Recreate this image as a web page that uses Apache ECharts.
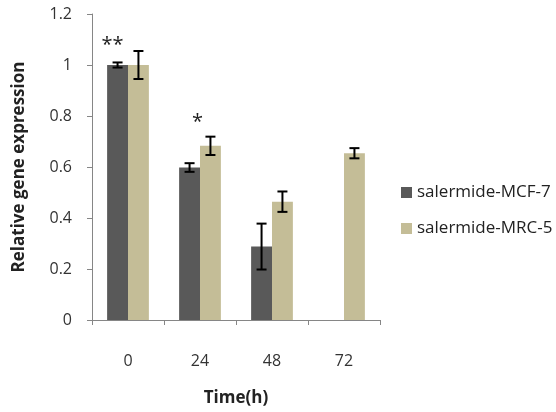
<!DOCTYPE html>
<html>
<head>
<meta charset="utf-8">
<script src="https://cdn.jsdelivr.net/npm/echarts@6/dist/echarts.min.js"></script>
<style>
  html, body { margin: 0; padding: 0; background: #fff; }
  #chart { width: 556px; height: 412px; }
</style>
</head>
<body>
<div id="chart"></div>
<script>
const categories = ['0', '24', '48', '72']
const mcfValues = [1.0, 0.598, 0.288, null]
const mcfErrors = [0.01, 0.017, 0.09, null]
const mrcValues = [1.0, 0.683, 0.464, 0.654]
const mrcErrors = [0.055, 0.036, 0.04, 0.02]
const yTicks = [0, 0.2, 0.4, 0.6, 0.8, 1, 1.2]
// significance marks: [category, height, text, shift from the MCF bar in px]
const marks = [['0', 1.078, '**', -5], ['24', 0.775, '*', 8]]

const font = '"Open Sans", "Noto Sans", sans-serif'
const chart = echarts.init(document.getElementById('chart'))

// error bars drawn on top of the bars, side = -1 for left bar, +1 for right
function errorSeries(values, errors, side) {
  const data = values.map((v, i) => v == null ? null : [i, v - errors[i], v + errors[i]])
  return {
    type: 'custom',
    z: 10,
    silent: true,
    data: data.filter(d => d),
    renderItem(params, api) {
      const band = api.size([1, 0])[0]
      const bw = band * 0.29
      const lo = api.coord([api.value(0), api.value(1)])
      const hi = api.coord([api.value(0), api.value(2)])
      const x = lo[0] + side * bw / 2
      const cap = 5
      const style = { stroke: '#000', lineWidth: 2 }
      return {
        type: 'group',
        children: [
          { type: 'line', shape: { x1: x, y1: lo[1], x2: x, y2: hi[1] }, style },
          { type: 'line', shape: { x1: x - cap, y1: lo[1], x2: x + cap, y2: lo[1] }, style },
          { type: 'line', shape: { x1: x - cap, y1: hi[1], x2: x + cap, y2: hi[1] }, style }
        ]
      }
    }
  }
}

chart.setOption({
  animation: false,
  grid: { left: 92, right: 176, top: 14, bottom: 86 },
  legend: {
    orient: 'vertical',
    left: 396,
    top: 179,
    itemWidth: 11,
    itemHeight: 11,
    itemGap: 19,
    icon: 'rect',
    textStyle: { fontFamily: font, fontSize: 17, color: '#222' },
    data: ['salermide-MCF-7', 'salermide-MRC-5']
  },
  xAxis: {
    type: 'category',
    data: categories,
    name: 'Time(h)',
    nameLocation: 'middle',
    nameGap: 70,
    nameTextStyle: { fontFamily: font, fontSize: 17, fontWeight: 'bold', color: '#222' },
    axisLine: { lineStyle: { color: '#868686' } },
    axisTick: { show: true, length: 5, lineStyle: { color: '#868686' } },
    axisLabel: { fontFamily: font, fontSize: 16, color: '#333', margin: 33 }
  },
  yAxis: {
    type: 'value',
    min: 0,
    max: 1.2,
    interval: 0.2,
    name: 'Relative gene expression',
    nameLocation: 'middle',
    nameGap: 64,
    nameTextStyle: { fontFamily: font, fontSize: 17, fontWeight: 'bold', color: '#222' },
    splitLine: { show: false },
    axisLine: { show: true, lineStyle: { color: '#868686' } },
    axisTick: { show: true, length: 5, lineStyle: { color: '#868686' } },
    axisLabel: {
      fontFamily: font, fontSize: 16, color: '#333', margin: 20,
      formatter: v => yTicks.includes(Math.round(v * 10) / 10) ? String(Math.round(v * 10) / 10) : ''
    }
  },
  series: [
    {
      name: 'salermide-MCF-7',
      type: 'bar',
      data: mcfValues,
      barGap: '0%',
      barCategoryGap: '42%',
      itemStyle: { color: '#595959' },
      markPoint: {
        symbol: 'circle',
        symbolSize: 0,
        label: {
          show: true,
          position: 'inside',
          fontFamily: font,
          fontSize: 20,
          color: '#222',
          formatter: p => p.name
        },
        data: marks.map(m => ({ name: m[2], coord: [m[0], m[1]], label: { offset: [m[3], 0] } }))
      }
    },
    {
      name: 'salermide-MRC-5',
      type: 'bar',
      data: mrcValues,
      itemStyle: { color: '#c4bd97' }
    },
    errorSeries(mcfValues, mcfErrors, -1),
    errorSeries(mrcValues, mrcErrors, 1)
  ]
})
</script>
</body>
</html>
